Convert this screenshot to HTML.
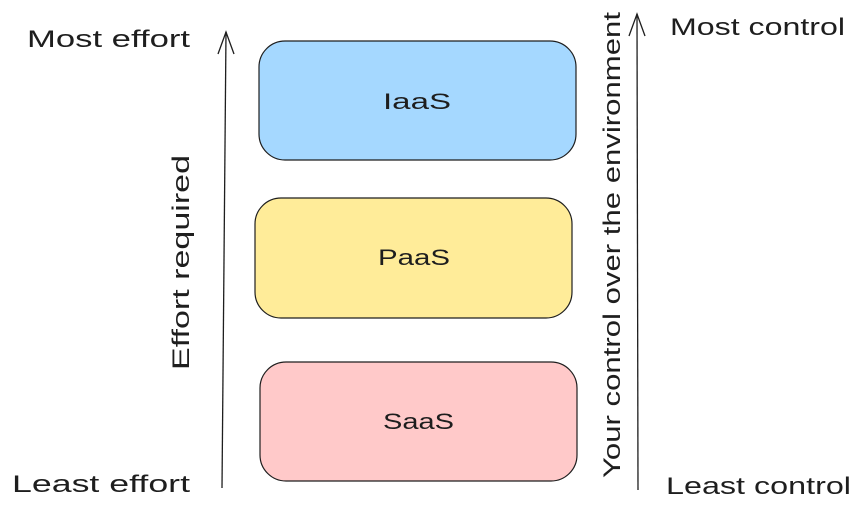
<!DOCTYPE html>
<html><head><style>
body{margin:0;background:#fff;}
svg text{font-family:"Liberation Sans",sans-serif;fill:#1e1e1e;}
</style></head><body>
<svg width="864" height="512" viewBox="0 0 864 512" xmlns="http://www.w3.org/2000/svg">
<rect x="0" y="0" width="864" height="512" fill="#fff"/>
<rect x="259" y="41" width="317" height="119" rx="26" fill="#a5d8ff" stroke="#1e1e1e" stroke-width="1.2"/>
<rect x="255" y="198" width="317" height="120" rx="26" fill="#ffec99" stroke="#1e1e1e" stroke-width="1.2"/>
<rect x="260" y="362" width="317" height="119" rx="26" fill="#ffc9c9" stroke="#1e1e1e" stroke-width="1.2"/>
<text x="383" y="109" font-size="22" textLength="68" lengthAdjust="spacingAndGlyphs">IaaS</text>
<text x="378" y="265" font-size="22" textLength="72" lengthAdjust="spacingAndGlyphs">PaaS</text>
<text x="383" y="429" font-size="22" textLength="71" lengthAdjust="spacingAndGlyphs">SaaS</text>
<g stroke="#1e1e1e" stroke-width="1.3" fill="none">
<path d="M222 488 L226 32"/><path d="M218 54 L226 32 L234 54"/>
<path d="M638 490 L637 14"/><path d="M629 36 L637 14 L645 36"/>
</g>
<text x="27" y="47" font-size="24" textLength="163" lengthAdjust="spacingAndGlyphs">Most effort</text>
<text x="12" y="492" font-size="24" textLength="178" lengthAdjust="spacingAndGlyphs">Least effort</text>
<text x="670" y="35" font-size="24" textLength="175" lengthAdjust="spacingAndGlyphs">Most control</text>
<text x="666" y="494" font-size="24" textLength="185" lengthAdjust="spacingAndGlyphs">Least control</text>
<text transform="translate(189,370) rotate(-90)" font-size="24" textLength="215" lengthAdjust="spacingAndGlyphs">Effort required</text>
<text transform="translate(620,478) rotate(-90)" font-size="24" textLength="466" lengthAdjust="spacingAndGlyphs">Your control over the environment</text>
</svg>
</body></html>
